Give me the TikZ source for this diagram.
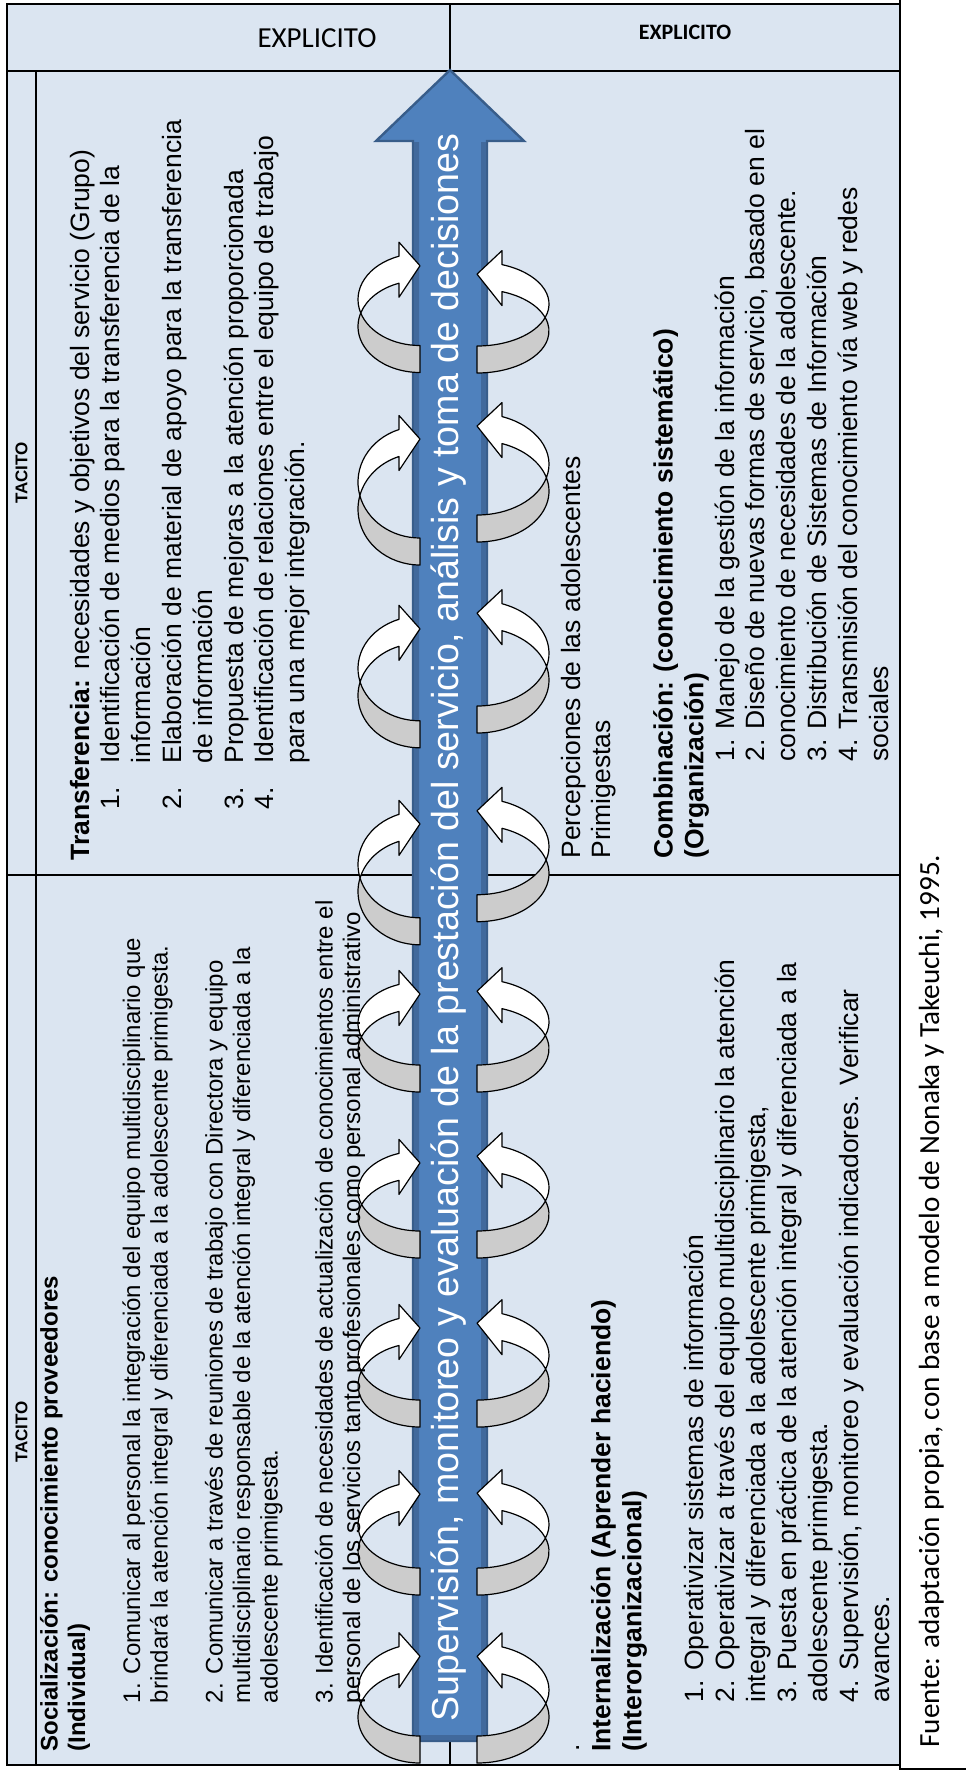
\documentclass[tikz,border=0pt]{standalone}
\usepackage{fontspec}
\setmainfont{Liberation Sans}
\newfontfamily\calibri{Carlito}
\definecolor{celda}{HTML}{DBE5F1}
\definecolor{azul}{HTML}{4F81BD}
\definecolor{azulborde}{HTML}{385D8A}
\definecolor{azulsombra}{HTML}{41699C}

\begin{document}
\begin{tikzpicture}[x=0.5pt, y=-0.5pt,
	borde/.style={line width=1pt},
	raya/.style={line width=0.6pt},
	texto/.style={rotate=90, anchor=north west, inner sep=0pt, align=left, font=\fontsize{13.25}{15.4}\selectfont},
	tacito/.style={rotate=90, inner sep=0pt, font=\bfseries\fontsize{8.5}{10}\selectfont},
	ciclo/.style={draw=black, line width=0.6pt, line join=round},
	cicloA/.style={ciclo, fill=white},
	cicloB/.style={ciclo, fill=black!20}]
		\useasboundingbox (0,0) rectangle (966,1774);
		\fill[celda] (7,4) rectangle (900,1765);
		\draw[raya] (7,71) -- (900,71);
		\draw[raya] (36,71) -- (36,1765);
		\draw[raya] (450,4) -- (450,1765);
		\draw[raya] (7,875) -- (900,875);
		\draw[borde] (7,4) rectangle (900,1765);
		\draw[borde] (900,0) -- (900,1769) -- (966,1769);

		\node[font=\calibri\fontsize{14.5}{17}\selectfont] (explA) at (317,38) {EXPLICITO};
		\node[font=\calibri\bfseries\fontsize{11}{13}\selectfont] (explB) at (685,32.5) {EXPLICITO};
		\node[tacito] (tacA) at (21.6,473) {TACITO};
		\node[tacito] (tacB) at (21.6,1432) {TACITO};

		\draw[line width=1.2pt, draw=azulborde, fill=azul] (450,70) -- (524,141) -- (487,141) -- (487,1741) -- (413,1741) -- (413,141) -- (376,141) -- cycle;
		\fill[azulsombra] (414,142) rectangle (419,1740) (481,142) rectangle (486,1740) (414,1735) rectangle (486,1740);
		\node[rotate=90, anchor=base, inner sep=0pt, text=white, font=\fontsize{18.8}{22}\selectfont] (lema) at (458,927.5) {Supervisión, monitoreo y evaluación de la prestación del servicio, análisis y toma de decisiones};

		\foreach \yl/\bl/\yr/\br in {313/46/317.5/42, 495.6/55.9/477.7/50.8, 682/52.3/666.7/52.8, 878/53.3/860/48.2, 1037/41.5/1035.5/43, 1204.5/40/1201/43.5, 1371.5/42/1369/44.6, 1538.5/43/1538/43.6, 1703.5/46/1703.5/46}{
			\pgfmathsetmacro\angl{asin(13.5/\bl)}
			\pgfmathsetmacro\angla{180+\angl}
			\pgfmathsetmacro\anglb{180-\angl}
			\pgfmathsetmacro\dyl{0.941*\bl}
			\pgfmathsetmacro\angr{asin(13.5/\br)}
			\pgfmathsetmacro\angrm{-\angr}
			\pgfmathsetmacro\dyr{0.938*\br}
			\draw[cicloB] (420,\yl+13.5) ++(\angla:62 and \bl) arc[start angle=\angla, end angle=90, x radius=62, y radius=\bl] -- (420,\yl-13.5+\bl) arc[start angle=90, end angle=\anglb, x radius=62, y radius=\bl] -- cycle;
			\draw[cicloA] (420,\yl-13.5) ++(\anglb:62 and \bl) arc[start angle=\anglb, end angle=250.2, x radius=62, y radius=\bl] -- (399,\yl-27.5-\dyl) -- (420,\yl-4-\dyl) -- (399,\yl+27.5-\dyl) -- (399,\yl+13.5-\dyl) arc[start angle=250.2, end angle=\angla, x radius=62, y radius=\bl] -- cycle;
			\draw[cicloB] (477,\yr+13.5) ++(\angrm:72 and \br) arc[start angle=\angrm, end angle=90, x radius=72, y radius=\br] -- (477,\yr-13.5+\br) arc[start angle=90, end angle=\angr, x radius=72, y radius=\br] -- cycle;
			\draw[cicloA] (477,\yr-13.5) ++(\angr:72 and \br) arc[start angle=\angr, end angle=-69.7, x radius=72, y radius=\br] -- (502,\yr-27.5-\dyr) -- (477,\yr-4-\dyr) -- (502,\yr+27.5-\dyr) -- (502,\yr+13.5-\dyr) arc[start angle=-69.7, end angle=\angrm, x radius=72, y radius=\br] -- cycle;
		}

		\node[texto] (transferencia) at (69.5,861) {\textbf{Transferencia:} necesidades y objetivos del servicio (Grupo)\\
			\hspace*{25.5pt}\makebox[23pt][l]{1.}Identificación de medios para la transferencia de la\\
			\hspace*{48.5pt}información\\
			\hspace*{25.5pt}\makebox[23pt][l]{2.}Elaboración de material de apoyo para la transferencia\\
			\hspace*{48.5pt}de información\\
			\hspace*{25.5pt}\makebox[23pt][l]{3.}Propuesta de mejoras a la atención proporcionada\\
			\hspace*{25.5pt}\makebox[23pt][l]{4.}Identificación de relaciones entre el equipo de trabajo\\
			\hspace*{48.5pt}para una mejor integración.};

		\node[texto] (combinacion) at (560.5,859) {Percepciones de las adolescentes\\
			Primigestas\\[15.4pt]
			\textbf{Combinación: (conocimiento sistemático)}\\
			\textbf{(Organización)}\\
			\hspace*{48.5pt}1. Manejo de la gestión de la información\\
			\hspace*{48.5pt}2. Diseño de nuevas formas de servicio, basado en el\\
			\hspace*{48.5pt}conocimiento de necesidades de la adolescente.\\
			\hspace*{48.5pt}3. Distribución de Sistemas de Información\\
			\hspace*{48.5pt}4. Transmisión del conocimiento vía web y redes\\
			\hspace*{48.5pt}sociales};

		\node[texto, font=\fontsize{12}{13.75}\selectfont] (socializacion) at (39.5,1752) {\textbf{Socialización: conocimiento proveedores}\\
			\textbf{(Individual)}\\[13.75pt]
			\hspace*{24.25pt}1. Comunicar al personal la integración del equipo multidisciplinario que\\
			\hspace*{24.25pt}brindará la atención integral y diferenciada a la adolescente primigesta.\\[13.75pt]
			\hspace*{24.25pt}2. Comunicar a través de reuniones de trabajo con Directora y equipo\\
			\hspace*{24.25pt}multidisciplinario responsable de la atención integral y diferenciada a la\\
			\hspace*{24.25pt}adolescente primigesta.\\[13.75pt]
			\hspace*{24.25pt}3. Identificación de necesidades de actualización de conocimientos entre el\\
			\hspace*{24.25pt}personal de los servicios tanto profesionales como personal administrativo};

		\node[texto, font=\fontsize{13.25}{15.5}\selectfont] (internalizacion) at (590.5,1752) {\textbf{Internalización (Aprender haciendo)}\\
			\textbf{(Interorganizacional)}\\[15.5pt]
			\hspace*{24.5pt}1. Operativizar sistemas de información\\
			\hspace*{24.5pt}2. Operativizar a través del equipo multidisciplinario la atención\\
			\hspace*{24.5pt}integral y diferenciada a la adolescente primigesta,\\
			\hspace*{24.5pt}3. Puesta en práctica de la atención integral y diferenciada a la\\
			\hspace*{24.5pt}adolescente primigesta.\\
			\hspace*{24.5pt}4. Supervisión, monitoreo y evaluación indicadores. Verificar\\
			\hspace*{24.5pt}avances.};
		\node[rotate=90, inner sep=0pt, font=\fontsize{13.25}{15.5}\selectfont] (punto) at (578,1748) {.};

		\node[rotate=90, anchor=base west, inner sep=0pt, font=\calibri\fontsize{14.6}{17}\selectfont] (fuente) at (939,1748) {Fuente: adaptación propia, con base a modelo de Nonaka y Takeuchi, 1995.};
	\end{tikzpicture}
\end{document}
